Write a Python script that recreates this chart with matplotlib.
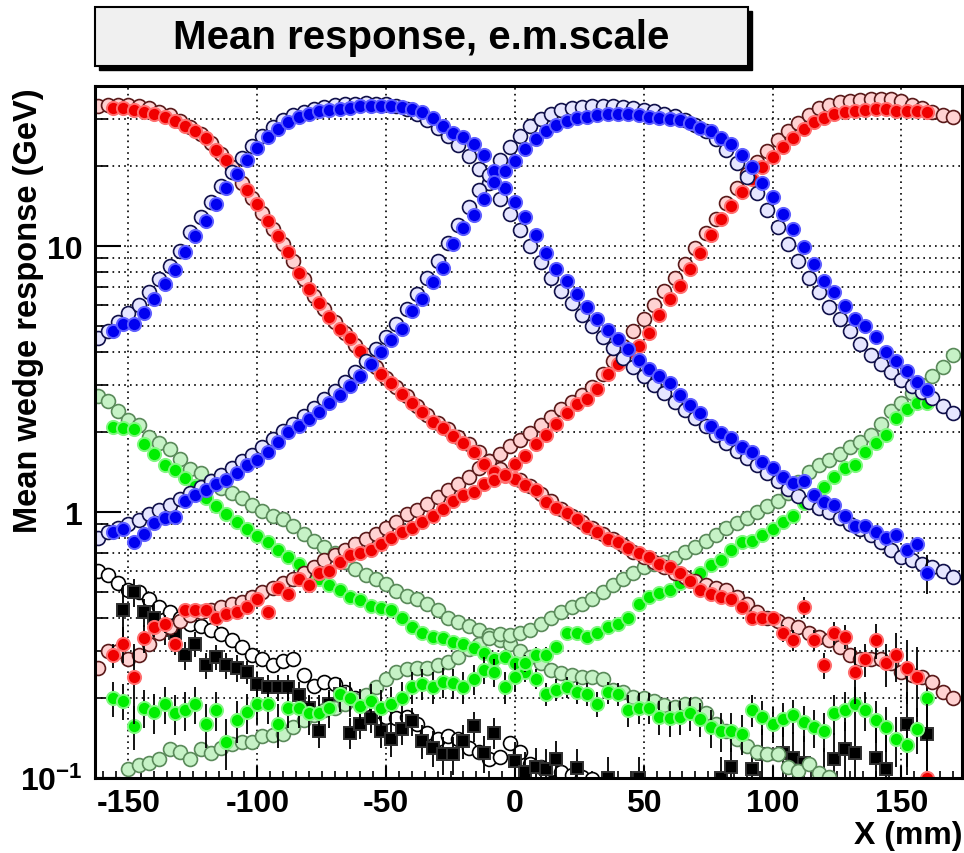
import numpy as np
import matplotlib
matplotlib.use('Agg')
import matplotlib.pyplot as plt
from matplotlib.patches import Rectangle
from matplotlib.font_manager import FontProperties
from matplotlib.ticker import MultipleLocator, LogLocator, NullFormatter

nan = np.nan

# bin centres (mm): filled points and open points sit on interleaved grids
x_filled = np.arange(-156, 161, 4)
x_open = np.arange(-162, 171, 4)

# ---- red: outer wedges ----
red_l_filled = [33, 33, 32.5, 32, 31.5, 30.5, 29.5, 28.3, 27, 25.5,
                23, 21, 18.6, 16.2, 14.4, 12.4, 10.9, 9.5, 7.9, 6.9,
                6.1, 5.4, 4.9, 4.5, 4.05, 3.65, 3.3, 3.05, 2.78, 2.58,
                2.37, 2.19, 2.07, 1.93, 1.82, 1.68, 1.52, 1.42, 1.37, 1.33,
                1.26, 1.21, 1.09, 1.04, 0.99, 0.94, 0.88, 0.84, 0.79, 0.77,
                0.73, 0.70, 0.68, 0.64, 0.62, 0.59, 0.55, 0.51, 0.49, 0.48,
                0.47, 0.44, 0.40, 0.40, 0.40, 0.35, 0.33, 0.44, 0.33, 0.265,
                0.35, 0.34, 0.25, 0.28, 0.33, 0.27, 0.29, 0.26, 0.24, 0.10]
red_l_err = [0.0] * 58 + [0.015, 0.015, 0.02, 0.02, 0.02, 0.02, 0.025, 0.025, 0.03, 0.04,
                          0.03, 0.03, 0.035, 0.035, 0.06, 0.04, 0.05, 0.05, 0.06, 0.07,
                          0.07, 0.09]
red_l_open = [33.5, 34, 34, 33.8, 33.5, 33, 32, 31, 29.5, 28,
              26.5, 24.5, 22.2, 19.8, 17.2, 15.2, 13.3, 11.6, 10.2, 8.8,
              7.5, 6.5, 5.8, 5.2, 4.7, 4.25, 3.9, 3.5, 3.2, 2.95,
              2.72, 2.5, 2.32, 2.17, 2.05, 1.92, 1.8, 1.68, 1.55, 1.45,
              1.38, 1.32, 1.25, 1.17, 1.10, 1.03, 0.97, 0.92, 0.87, 0.83,
              0.79, 0.75, 0.71, 0.68, 0.65, 0.62, 0.59, 0.57, 0.55, 0.53,
              0.52, 0.51, 0.48, 0.45, 0.42, 0.40, 0.39, 0.38, 0.37, 0.35,
              0.34, 0.33, 0.31, 0.29, 0.28, 0.28, 0.28, 0.27, 0.25, 0.245,
              0.24, 0.23, 0.21, 0.20]

red_r_filled = [0.29, 0.32, 0.24, 0.335, 0.37, 0.38, 0.32, 0.43, 0.43, 0.43,
                0.40, 0.415, 0.42, 0.44, 0.47, 0.42, 0.52, 0.49, 0.56, 0.53,
                0.59, 0.60, 0.65, 0.69, 0.70, 0.72, 0.76, 0.80, 0.84, 0.87,
                0.92, 0.97, 1.03, 1.10, 1.16, 1.19, 1.27, 1.32, 1.38, 1.52,
                1.63, 1.80, 1.95, 2.15, 2.36, 2.55, 2.65, 2.90, 3.3, 3.6,
                4.0, 4.2, 4.7, 5.5, 6.3, 7.1, 8.2, 9.4, 11.0, 12.6,
                14.1, 16.0, 17.9, 19.9, 21.7, 23.6, 25.6, 27.5, 29.2, 30.3,
                31.3, 32.0, 32.3, 32.6, 32.9, 32.7, 32.3, 32.3, 32.3, 32.0]
red_r_err = [0.03, 0.05, 0.08, 0.04, 0.03, 0.03, 0.03, 0.025, 0.02, 0.02] + [0.0] * 70
red_r_open = [0.26, 0.30, 0.30, 0.28, 0.29, 0.32, 0.35, 0.37, 0.39, 0.41,
              0.42, 0.43, 0.44, 0.45, 0.46, 0.48, 0.50, 0.52, 0.54, 0.56,
              0.59, 0.62, 0.66, 0.69, 0.72, 0.76, 0.79, 0.83, 0.87, 0.92,
              0.98, 1.02, 1.07, 1.14, 1.21, 1.28, 1.35, 1.46, 1.56, 1.66,
              1.77, 1.86, 1.98, 2.12, 2.28, 2.45, 2.60, 2.75, 2.95, 3.3,
              3.7, 4.2, 4.8, 5.3, 6.0, 6.8, 7.6, 8.6, 9.8, 11.2,
              12.6, 14.5, 16.5, 18.6, 20.8, 22.8, 25, 27, 29, 31,
              33, 34, 34.8, 35.2, 35.5, 35.8, 35.8, 35.6, 35, 34,
              33, 31.8, 31, 30.5]

# ---- blue: central wedges ----
blue_l_filled = [4.8, 5.1, 5.1, 5.6, 6.3, 7.2, 8.1, 9.5, 10.9, 12.4,
                 14.4, 16.5, 18.6, 21, 23.3, 25.8, 27.6, 29.4, 30.6, 31.5,
                 32.1, 32.6, 32.9, 33.2, 33.5, 33.6, 33.7, 33.6, 33.4, 32.8,
                 31.8, 30.3, 28.3, 26.7, 25.8, 24.2, 22, 19.2, 16.6, 14.6,
                 12.9, 11.0, 9.4, 8.2, 7.4, 6.6, 5.9, 5.3, 4.85, 4.46,
                 4.1, 3.72, 3.46, 3.25, 3.07, 2.76, 2.52, 2.36, 2.10, 1.99,
                 1.90, 1.76, 1.68, 1.54, 1.46, 1.36, 1.29, 1.31, 1.16, 1.09,
                 1.06, 0.97, 0.89, 0.89, 0.84, 0.80, 0.82, 0.72, 0.76, 0.59]
blue_l_err = [0.0] * 79 + [0.1]
blue_l_open = [4.5, 4.8, 5.2, 5.6, 6.0, 6.7, 7.5, 8.4, 9.6, 11.3,
               12.9, 14.7, 16.8, 19, 21.4, 23.7, 26, 28, 29.8, 31,
               32, 32.8, 33.4, 33.8, 34.1, 34.3, 34.4, 34.3, 34.1, 33.6,
               32.8, 31.5, 29.8, 27.8, 25.9, 24, 21.8, 19.5, 17.2, 15,
               13.2, 11.5, 10, 8.7, 7.6, 6.8, 6.1, 5.5, 5.0, 4.55,
               4.15, 3.8, 3.5, 3.25, 3.0, 2.8, 2.6, 2.42, 2.25, 2.1,
               1.95, 1.82, 1.7, 1.6, 1.5, 1.4, 1.31, 1.22, 1.15, 1.09,
               1.04, 1.0, 0.95, 0.90, 0.86, 0.82, 0.77, 0.72, 0.68, 0.66,
               0.64, 0.62, 0.60, 0.57]

blue_r_filled = [0.84, 0.86, 0.77, 0.83, 0.91, 0.95, 0.96, 1.10, 1.16, 1.21,
                 1.28, 1.32, 1.40, 1.50, 1.57, 1.68, 1.84, 2.0, 2.1, 2.23,
                 2.37, 2.56, 2.75, 2.97, 3.25, 3.6, 4.0, 4.45, 4.9, 5.7,
                 6.3, 7.3, 8.3, 10.2, 11.7, 13.1, 15, 17.4, 19.2, 20.9,
                 23.2, 25.3, 27, 28.5, 29.6, 30.3, 30.6, 31, 31.4, 31.5,
                 31.3, 31, 30.7, 30.3, 30.1, 29.7, 29, 27.9, 27, 25.4,
                 24.3, 22, 19.9, 17.2, 15.3, 13.2, 11.6, 9.9, 8.6, 7.4,
                 6.7, 5.95, 5.3, 5.0, 4.55, 4.0, 3.7, 3.38, 3.08, 2.88]
blue_r_open = [0.80, 0.84, 0.87, 0.90, 0.93, 0.98, 1.02, 1.06, 1.12, 1.18,
               1.24, 1.31, 1.38, 1.46, 1.55, 1.64, 1.75, 1.88, 2.02, 2.15,
               2.3, 2.46, 2.65, 2.85, 3.08, 3.35, 3.7, 4.1, 4.55, 5.1,
               5.8, 6.6, 7.6, 8.8, 10.3, 12, 14, 16.2, 18.5, 21,
               23.5, 26, 28.2, 30, 31.4, 32.4, 33, 33.3, 33.5, 33.6,
               33.5, 33.3, 33, 32.6, 32.1, 31.5, 30.8, 29.8, 28.6, 27,
               25.2, 23, 20.6, 18.2, 15.8, 13.7, 11.8, 10.2, 8.8, 7.6,
               6.7, 5.9, 5.3, 4.8, 4.3, 3.9, 3.6, 3.35, 3.15, 2.98,
               2.82, 2.68, 2.5, 2.36]

# ---- green: next neighbours ----
green_l_filled = [2.08, 2.07, 2.05, 1.80, 1.65, 1.50, 1.44, 1.34, 1.25, 1.13,
                  1.05, 0.98, 0.92, 0.86, 0.81, 0.77, 0.72, 0.68, 0.64, 0.60,
                  0.56, 0.53, 0.51, 0.48, 0.465, 0.445, 0.435, 0.43, 0.40, 0.37,
                  0.35, 0.34, 0.335, 0.325, 0.318, 0.307, 0.294, 0.28, 0.285, 0.27,
                  0.25, 0.236, 0.207, 0.215, 0.22, 0.21, 0.207, 0.19, 0.21, 0.207,
                  0.18, 0.184, 0.184, 0.17, 0.168, 0.17, 0.175, 0.167, 0.155, 0.15,
                  0.15, 0.147, 0.18, 0.17, 0.16, 0.167, 0.172, 0.162, 0.155, 0.15,
                  0.175, 0.18, 0.19, 0.18, 0.165, 0.155, 0.14, 0.133, 0.153, 0.20]
green_l_err = [0.0] * 40 + [0.02] * 10 + [0.025] * 20 + [0.03] * 10
green_l_open = [2.72, 2.62, 2.4, 2.22, 2.12, 1.92, 1.82, 1.72, 1.58, 1.45,
                1.4, 1.31, 1.23, 1.18, 1.13, 1.06, 1.01, 0.97, 0.94, 0.89,
                0.83, 0.78, 0.74, 0.70, 0.65, 0.61, 0.58, 0.56, 0.535, 0.505,
                0.485, 0.47, 0.45, 0.43, 0.40, 0.385, 0.372, 0.36, 0.345, 0.33,
                0.32, 0.30, 0.285, 0.27, 0.255, 0.248, 0.243, 0.24, 0.24, 0.235,
                0.215, 0.21, 0.202, 0.2, 0.195, 0.188, 0.185, 0.19, 0.19, 0.175,
                0.16, 0.15, 0.14, 0.132, 0.125, 0.123, 0.123, 0.11, 0.106, 0.113,
                0.104, 0.101, nan, nan, nan, nan, nan, nan, nan, nan,
                nan, nan, nan, nan]

green_r_filled = [0.20, 0.195, 0.157, 0.184, 0.177, 0.19, 0.175, 0.18, 0.19, 0.16,
                  0.18, 0.137, 0.165, 0.177, 0.19, 0.19, 0.16, 0.184, 0.184, 0.175,
                  0.175, 0.184, 0.207, 0.2, 0.187, 0.195, 0.184, 0.19, 0.2, 0.22,
                  0.226, 0.22, 0.23, 0.228, 0.22, 0.236, 0.255, 0.25, 0.22, 0.24,
                  0.27, 0.29, 0.29, 0.31, 0.35, 0.35, 0.34, 0.35, 0.37, 0.38,
                  0.40, 0.45, 0.48, 0.495, 0.51, 0.54, 0.56, 0.59, 0.63, 0.66,
                  0.72, 0.77, 0.78, 0.82, 0.86, 0.92, 0.97, 1.08, 1.16, 1.24,
                  1.36, 1.47, 1.50, 1.68, 1.82, 1.95, 2.25, 2.45, 2.58, 2.58]
green_r_err = [0.03] * 40 + [0.02] * 10 + [0.0] * 30
green_r_open = [nan, nan, nan, 0.108, 0.112, 0.114, 0.118, 0.128, 0.125, 0.118,
                0.128, 0.124, 0.13, 0.134, 0.136, 0.137, 0.144, 0.145, 0.147, 0.155,
                0.165, 0.172, 0.18, 0.183, 0.19, 0.197, 0.206, 0.22, 0.235, 0.25,
                0.258, 0.26, 0.26, 0.265, 0.273, 0.285, 0.305, 0.32, 0.335, 0.348,
                0.345, 0.35, 0.36, 0.38, 0.40, 0.42, 0.44, 0.45, 0.47, 0.50,
                0.53, 0.56, 0.59, 0.62, 0.64, 0.65, 0.67, 0.71, 0.74, 0.78,
                0.82, 0.87, 0.91, 0.95, 1.0, 1.05, 1.10, 1.18, 1.30, 1.41,
                1.50, 1.57, 1.65, 1.76, 1.83, 1.95, 2.15, 2.4, 2.58, 2.8,
                3.0, 3.25, 3.5, 3.9]

# ---- black: far wedges ----
black_filled = [nan, 0.43, 0.50, 0.42, 0.40, 0.36, 0.35, 0.29, 0.32, 0.265,
                0.285, 0.265, 0.26, 0.25, 0.226, 0.22, 0.22, 0.22, 0.205, 0.184,
                0.15, 0.19, 0.207, 0.148, 0.16, 0.168, 0.15, 0.14, 0.153, 0.164,
                0.138, 0.13, 0.123, 0.123, 0.138, 0.157, 0.124, 0.148, nan, 0.116,
                0.105, 0.11, 0.108, 0.118, nan, 0.109, nan, nan, 0.1, nan,
                nan, 0.1, nan, nan, nan, nan, nan, nan, nan, 0.1,
                0.11, nan, 0.108, 0.123, nan, 0.124, 0.119, 0.114, nan, 0.1,
                0.118, 0.128, 0.124, nan, 0.119, 0.108, nan, 0.16, nan, 0.146]
black_err = [0.0, 0.1, 0.06, 0.05, 0.05, 0.045, 0.04, 0.035, 0.035, 0.03,
             0.03, 0.03, 0.03, 0.025, 0.025, 0.025, 0.025, 0.025, 0.025, 0.02,
             0.02, 0.02, 0.02, 0.02, 0.02, 0.02, 0.02, 0.02, 0.02, 0.02,
             0.02, 0.02, 0.02, 0.02, 0.02, 0.02, 0.02, 0.02, 0.0, 0.02,
             0.02, 0.02, 0.02, 0.02, 0.0, 0.02, 0.0, 0.0, 0.02, 0.0,
             0.0, 0.02, 0.0, 0.0, 0.0, 0.0, 0.0, 0.0, 0.0, 0.02,
             0.02, 0.0, 0.03, 0.03, 0.0, 0.03, 0.03, 0.03, 0.0, 0.03,
             0.03, 0.035, 0.035, 0.0, 0.04, 0.04, 0.0, 0.05, 0.0, 0.05]
black_open = [0.60, 0.58, 0.54, 0.51, 0.50, 0.47, 0.44, 0.42, 0.40, 0.38,
              0.372, 0.36, 0.347, 0.33, 0.31, 0.29, 0.28, 0.265, 0.275, 0.28,
              0.245, 0.222, 0.23, 0.225, 0.21, 0.20, 0.19, 0.178, 0.17, 0.168,
              0.17, 0.16, 0.148, 0.14, 0.144, 0.14, 0.13, 0.125, 0.118, 0.12,
              0.135, 0.125, 0.113, 0.11, 0.108, 0.105, 0.103, 0.101, 0.099, nan] + [nan] * 34

xticks = [-150, -100, -50, 0, 50, 100, 150]
xtick_labels = ['-150', '-100', '-50', '0', '50', '100', '150']
yticks = [0.1, 1, 10]
ytick_labels = [r'$\mathbf{10^{-1}}$', '1', '10']


def draw_open(ax, x, y, edge, face):
    ax.plot(x, y, ls='none', marker='o', ms=10, mfc=face, mec=edge, mew=1.2)


def draw_filled(ax, x, y, color, halo, err=None, marker='o', ms=9.5):
    if err is not None:
        ax.errorbar(x, y, yerr=err, fmt='none', ecolor='k', elinewidth=1.3, capsize=0)
    ax.plot(x, y, ls='none', marker=marker, ms=ms, mfc=color, mec=halo, mew=1.4)


def main():
    plt.rcParams['font.family'] = ['Liberation Sans', 'DejaVu Sans']
    plt.rcParams['font.weight'] = 'bold'
    plt.rcParams['mathtext.fontset'] = 'custom'
    plt.rcParams['mathtext.bf'] = 'Liberation Sans:bold'
    plt.rcParams['mathtext.rm'] = 'Liberation Sans:bold'

    fig = plt.figure(figsize=(9.64, 8.54), dpi=100)
    W, H = 964.0, 854.0
    ax = fig.add_axes([95 / W, 1 - 779 / H, (962 - 95) / W, (779 - 87) / H])

    draw_open(ax, x_open, black_open, 'black', 'white')
    draw_filled(ax, x_filled, black_filled, 'black', '#303030', black_err, marker='s', ms=9)

    draw_open(ax, x_open, green_l_open, '#5a8a5a', '#c6f2c6')
    draw_open(ax, x_open, green_r_open, '#5a8a5a', '#c6f2c6')
    draw_filled(ax, x_filled, green_l_filled, '#00ee00', '#80f880', green_l_err)
    draw_filled(ax, x_filled, green_r_filled, '#00ee00', '#80f880', green_r_err)

    draw_open(ax, x_open, red_l_open, '#5a1a1a', '#ffd2d2')
    draw_open(ax, x_open, red_r_open, '#5a1a1a', '#ffd2d2')
    draw_filled(ax, x_filled, red_l_filled, '#f00000', '#ff7070', red_l_err)
    draw_filled(ax, x_filled, red_r_filled, '#f00000', '#ff7070', red_r_err)

    draw_open(ax, x_open, blue_l_open, '#10104a', '#e6e6ff')
    draw_open(ax, x_open, blue_r_open, '#10104a', '#e6e6ff')
    draw_filled(ax, x_filled, blue_l_filled, '#0000f0', '#6060ff', blue_l_err)
    draw_filled(ax, x_filled, blue_r_filled, '#0000f0', '#6060ff')

    ax.set_yscale('log')
    ax.set_xlim(-163, 173.5)
    ax.set_ylim(0.1, 40)

    tick_font = FontProperties(family=['Liberation Sans Narrow', 'Liberation Sans'],
                               weight='bold', size=23)
    ax.set_xticks(xticks)
    ax.set_xticklabels(xtick_labels, fontproperties=tick_font)
    ax.xaxis.set_minor_locator(MultipleLocator(5))
    ax.set_yticks(yticks)
    ax.set_yticklabels(ytick_labels, fontproperties=tick_font)
    ax.yaxis.set_minor_locator(LogLocator(base=10, subs=range(2, 10)))
    ax.yaxis.set_minor_formatter(NullFormatter())

    ax.tick_params(axis='x', which='major', direction='in', length=9, width=1.5, pad=7)
    ax.tick_params(axis='x', which='minor', direction='in', length=5, width=1.2)
    ax.tick_params(axis='y', which='major', direction='in', length=19, width=1.5, pad=9)
    ax.tick_params(axis='y', which='minor', direction='in', length=9.5, width=1.2)

    ax.grid(True, which='major', axis='x', color='k', lw=1.2, ls=(0, (1, 2.5)))
    ax.grid(True, which='both', axis='y', color='k', lw=1.2, ls=(0, (1, 2.5)))
    ax.set_axisbelow(True)
    for side in ['left', 'bottom', 'top', 'right']:
        ax.spines[side].set_linewidth(2.2)

    # axis titles
    fig.text(29 / W, 1 - 88 / H, 'Mean wedge response (GeV)', rotation=90,
             ha='center', va='top', fontsize=23.5, fontweight='bold')
    fig.text(962 / W, 1 - 836 / H, 'X (mm)', ha='right', va='center',
             fontsize=23, fontweight='bold')

    # title box with shadow
    bx0, bx1, by0, by1 = 95, 748, 8, 67
    fig.patches.append(Rectangle(((bx0 + 4) / W, 1 - (by1 + 4) / H), (bx1 - bx0) / W,
                                 (by1 - by0) / H, transform=fig.transFigure,
                                 facecolor='black', edgecolor='black'))
    fig.patches.append(Rectangle((bx0 / W, 1 - by1 / H), (bx1 - bx0) / W,
                                 (by1 - by0) / H, transform=fig.transFigure,
                                 facecolor='#f0f0f0', edgecolor='black', lw=1.5))
    fig.text((bx0 + bx1) / 2 / W, 1 - 38 / H, 'Mean response, e.m.scale',
             ha='center', va='center', fontsize=29, fontweight='bold')

    fig.savefig('out.png', dpi=100)


if __name__ == '__main__':
    main()
